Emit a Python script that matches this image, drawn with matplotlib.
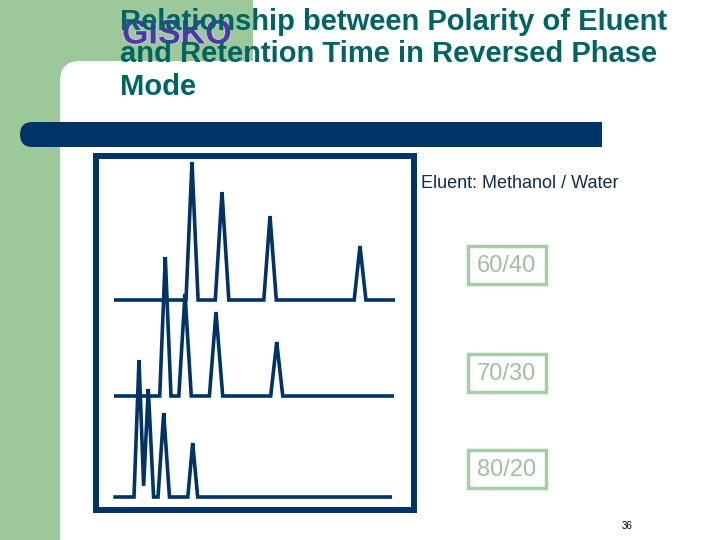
import numpy as np
import matplotlib
matplotlib.use("Agg")
import matplotlib.pyplot as plt
from matplotlib.patches import Rectangle, FancyBboxPatch
import matplotlib.patheffects as pe

# ---------------- data ----------------
title_text = "Relationship between Polarity of Eluent\nand Retention Time in Reversed Phase\nMode"
logo_text = "GISKO"
eluent_label = "Eluent: Methanol / Water"
ratio_labels = ["60/40", "70/30", "80/20"]
page_number = "36"

# retention times (arbitrary units), peak heights and half-widths per eluent
rt_6040 = [7.8, 10.8, 15.6, 24.6]
h_6040 = [138, 108, 84, 54]
hw_6040 = [0.60, 0.67, 0.62, 0.58]

rt_7030 = [5.13, 7.1, 10.2, 16.27]
h_7030 = [139, 102, 84, 54]
hw_7030 = [0.56, 0.62, 0.66, 0.60]

rt_8020 = [2.5, 3.43, 4.97, 7.87]
h_8020 = [137, 108, 84, 54]
hw_8020 = [0.50, 0.52, 0.57, 0.49]

run_start = [0.0, 0.0, -0.07]
run_end = [28.1, 28.0, 27.8]
baseline_offset = [197, 101, 0]

# ---------------- colours ----------------
GREEN = "#9dc89a"
NAVY = "#003366"
TEAL = "#006464"
BOX_GREEN = "#a6cda6"
TXT_GREEN = "#9fc09f"

W, H = 720, 540
fig = plt.figure(figsize=(7.2, 5.4), dpi=100)
fig.patch.set_facecolor("white")

# background axes in pixel units
bg = fig.add_axes([0, 0, 1, 1])
bg.set_xlim(0, W)
bg.set_ylim(H, 0)
bg.axis("off")

bg.add_patch(Rectangle((0, 0), 60, H, color=GREEN, lw=0))
bg.add_patch(Rectangle((0, 0), 253, 85, color=GREEN, lw=0))
bg.add_patch(FancyBboxPatch((60, 61), 800, 600,
                            boxstyle="round,pad=0,rounding_size=20",
                            fc="white", ec="none"))
# navy bar (rounded left end, square right end)
bg.add_patch(FancyBboxPatch((20, 122), 582, 25,
                            boxstyle="round,pad=0,rounding_size=12.5",
                            fc=NAVY, ec="none"))
bg.add_patch(Rectangle((300, 122), 302, 25, fc=NAVY, ec="none"))

# logo + title
bg.text(122, 35, logo_text, fontsize=24.5, fontweight="bold",
        family="Liberation Sans", color="#4a3c9c", va="center", ha="left",
        path_effects=[pe.withStroke(linewidth=1.5, foreground="#c8c4ec")],
        zorder=3)
bg.text(120, 8, title_text, fontsize=21, fontweight="bold",
        family="Liberation Sans", color=TEAL, va="top", ha="left",
        linespacing=1.2, zorder=4)

# eluent label
bg.text(421, 183, eluent_label, fontsize=13, family="Liberation Sans",
        color="#0d2b52", va="center", ha="left")

# ratio boxes
box_centers_y = [265, 372.5, 468.8]
for lab, cy in zip(ratio_labels, box_centers_y):
    bg.add_patch(Rectangle((467.7, cy - 19), 78, 38, fc="white",
                           ec=BOX_GREEN, lw=2.5))
    bg.text(506.7, cy + 1, lab, fontsize=17, family="Liberation Sans",
            color=TXT_GREEN, ha="center", va="center")

bg.text(627, 526, page_number, fontsize=7, family="Liberation Sans",
        color="black", ha="center", va="center")

# chromatogram axes (frame)
x0, x1, y0, y1 = 95.5, 414.5, 156, 510
ax = fig.add_axes([x0 / W, 1 - y1 / H, (x1 - x0) / W, (y1 - y0) / H])
ax.set_facecolor("white")
ax.set_xlim(-1.85, 30.05)
ax.set_ylim(-13, 341)
ax.set_xticks([])
ax.set_yticks([])
for s in ax.spines.values():
    s.set_color(NAVY)
    s.set_linewidth(4.3)


def chromatogram(rts, hs, hws, t0, t1):
    rts = np.asarray(rts, float)
    hs = np.asarray(hs, float)
    hws = np.asarray(hws, float)
    t = np.unique(np.concatenate([np.linspace(t0, t1, 6000), rts,
                                  rts - hws, rts + hws, [t0, t1]]))
    t = t[(t >= t0) & (t <= t1)]
    sig = np.zeros_like(t)
    for r, h, w in zip(rts, hs, hws):
        tri = h * (1 - np.abs(t - r) / w)
        sig = np.maximum(sig, np.clip(tri, 0, None))
    return t, sig


series = [(rt_6040, h_6040, hw_6040), (rt_7030, h_7030, hw_7030),
          (rt_8020, h_8020, hw_8020)]
for (rts, hs, hws), ts, te, off in zip(series, run_start, run_end,
                                       baseline_offset):
    t, sig = chromatogram(rts, hs, hws, ts, te)
    ax.plot(t, sig + off, color=NAVY, lw=2.6, solid_joinstyle="miter",
            solid_capstyle="butt")

fig.savefig("out.png", dpi=100)
